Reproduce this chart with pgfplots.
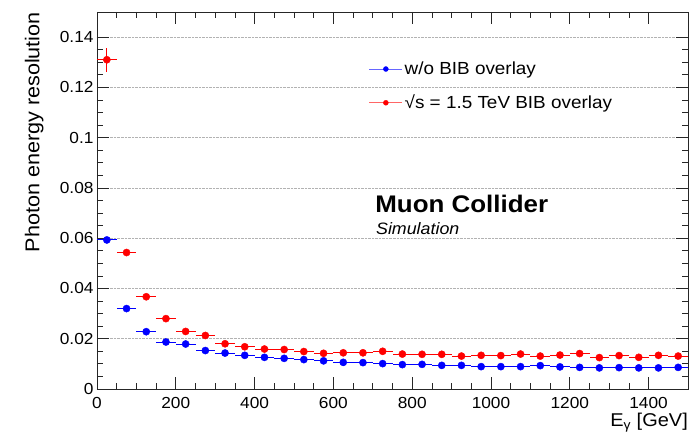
\documentclass[border=0pt]{standalone}
\usepackage{fontspec}
\setmainfont{Liberation Sans}[FakeStretch=1.08]
\usepackage{pgfplots}
\pgfplotsset{compat=1.18}
\usepackage{pgfplotstable}

% columns: bin centre, resolution, half bin width, stat. error
\pgfplotstableread{
x     y       ex  ey
25    0.0593  25  0.0008
75    0.0320  25  0.0005
125   0.0228  25  0.0004
175   0.0187  25  0.0003
225   0.0179  25  0.0003
275   0.0153  25  0.0003
325   0.0143  25  0.0003
375   0.0134  25  0.0002
425   0.0126  25  0.0002
475   0.0122  25  0.0002
525   0.0117  25  0.0002
575   0.0112  25  0.0002
625   0.0106  25  0.0002
675   0.0105  25  0.0002
725   0.0101  25  0.0002
775   0.0097  25  0.0002
825   0.0098  25  0.0002
875   0.0094  25  0.0002
925   0.0094  25  0.0002
975   0.0089  25  0.0002
1025  0.0089  25  0.0002
1075  0.0089  25  0.0002
1125  0.0093  25  0.0002
1175  0.0088  25  0.0002
1225  0.0086  25  0.0002
1275  0.0084  25  0.0002
1325  0.0085  25  0.0002
1375  0.0084  25  0.0002
1425  0.0084  25  0.0002
1475  0.0086  25  0.0002
}\noBIB

\pgfplotstableread{
x     y       ex  ey
25    0.1310  25  0.0048
75    0.0543  25  0.0008
125   0.0367  25  0.0006
175   0.0280  25  0.0005
225   0.0229  25  0.0004
275   0.0213  25  0.0003
325   0.0180  25  0.0003
375   0.0168  25  0.0003
425   0.0159  25  0.0003
475   0.0157  25  0.0003
525   0.0149  25  0.0003
575   0.0142  25  0.0003
625   0.0144  25  0.0003
675   0.0144  25  0.0003
725   0.0150  25  0.0003
775   0.0139  25  0.0003
825   0.0138  25  0.0003
875   0.0138  25  0.0003
925   0.0131  25  0.0003
975   0.0134  25  0.0003
1025  0.0133  25  0.0003
1075  0.0139  25  0.0003
1125  0.0131  25  0.0003
1175  0.0135  25  0.0003
1225  0.0141  25  0.0003
1275  0.0125  25  0.0003
1325  0.0133  25  0.0003
1375  0.0126  25  0.0003
1425  0.0134  25  0.0003
1475  0.0131  25  0.0003
}\withBIB

\definecolor{rootblue}{RGB}{0,0,255}
\definecolor{rootred}{RGB}{255,0,0}

\begin{document}
\begin{tikzpicture}
\path[use as bounding box] (-97bp,-49bp) rectangle (598bp,389bp);
\begin{axis}[
  at={(0,0)}, anchor=south west,
  scale only axis, width=591bp, height=377bp,
  xmin=0, xmax=1500, ymin=0, ymax=0.15,
  xtick={0,200,...,1400}, ytick={0,0.02,...,0.14},
  minor x tick num=3, minor y tick num=3,
  tick align=inside,
  major tick length=12bp, minor tick length=6bp,
  axis line style={line width=0.8pt, black!85},
  every tick/.style={line width=0.8pt, black!85},
  ymajorgrids,
  major grid style={densely dotted, line width=0.6pt, gray!60},
  scaled y ticks=false,
  /pgf/number format/assume math mode=true,
  /pgf/number format/set thousands separator={},
  yticklabel style={/pgf/number format/fixed, /pgf/number format/precision=2, font=\fontsize{16bp}{19bp}\selectfont},
  xticklabel style={font=\fontsize{16bp}{19bp}\selectfont, yshift=-5bp},
  xlabel={E\textsubscript{γ} [GeV]},
  ylabel={Photon energy resolution},
  xlabel style={at={(rel axis cs:1,0)}, anchor=north east, inner sep=0pt, yshift=-24bp, font=\fontsize{18.5bp}{22bp}\selectfont},
  ylabel style={at={(axis description cs:-0.09,1)}, anchor=south east, inner sep=0pt, font=\fontsize{20bp}{24bp}\selectfont},
  legend style={at={(axis cs:690,0.1310)}, anchor=north west, draw=none, fill=none,
    font=\fontsize{17.5bp}{20bp}\selectfont, row sep=15bp, inner sep=0pt},
  legend cell align=left,
  legend image code/.code={
    \draw[#1, line width=0.6pt, draw opacity=0.6] (0bp,0bp) -- (33bp,0bp);
    \draw[#1, only marks, mark size=2.5bp] plot coordinates {(16.5bp,0bp)};
  },
  clip=false,
]
\addplot[rootblue, only marks, mark=*, mark size=3.6bp,
  mark options={draw=rootblue, fill=rootblue},
  error bars/.cd, x dir=both, x explicit, y dir=both, y explicit,
  error mark=none, error bar style={line width=1pt, rootblue}]
  table[x=x, y=y, x error=ex, y error=ey] {\noBIB};
\addlegendentry{w/o BIB overlay}

\addplot[rootred, only marks, mark=*, mark size=3.6bp,
  mark options={draw=rootred, fill=rootred},
  error bars/.cd, x dir=both, x explicit, y dir=both, y explicit,
  error mark=none, error bar style={line width=1pt, rootred}]
  table[x=x, y=y, x error=ex, y error=ey] {\withBIB};
\addlegendentry{√s = 1.5 TeV BIB overlay}

\node[anchor=base west, inner sep=0pt, font=\fontsize{24bp}{28bp}\selectfont\bfseries]
  at (axis cs:706,0.0704) {Muon Collider};
\node[anchor=base west, inner sep=0pt, font=\fontsize{16.5bp}{20bp}\selectfont\itshape]
  at (axis cs:708,0.0613) {Simulation};
\end{axis}
\end{tikzpicture}
\end{document}
